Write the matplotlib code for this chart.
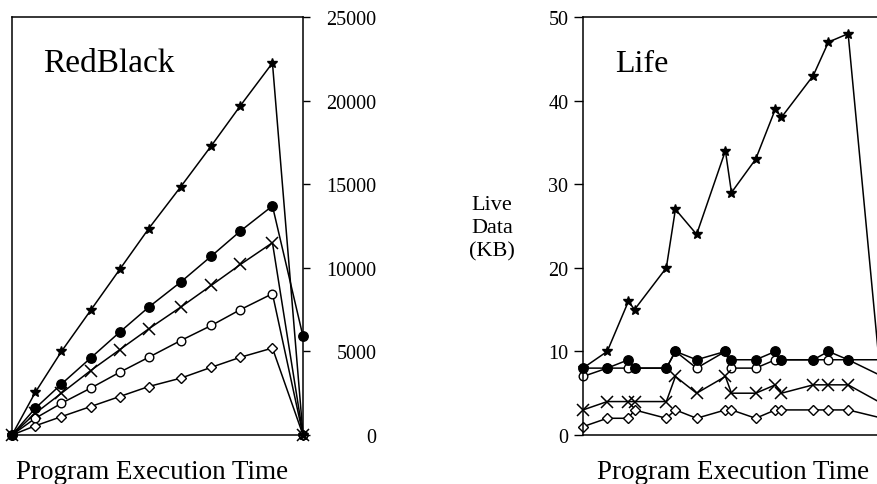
import matplotlib
matplotlib.use("Agg")
import matplotlib.pyplot as plt

plt.rcParams['font.family'] = ['Liberation Serif', 'DejaVu Serif']

# ---- RedBlack data ----
rb_time = [0, 0.8, 1.7, 2.7, 3.7, 4.7, 5.8, 6.85, 7.85, 8.95, 10]
rb_star = [0, 2550, 5000, 7450, 9900, 12350, 14850, 17300, 19700, 22250, 0]
rb_filled = [0, 1600, 3050, 4600, 6150, 7650, 9150, 10700, 12200, 13700, 5900]
rb_cross = [0, 1300, 2500, 3850, 5100, 6350, 7650, 8950, 10200, 11500, 0]
rb_open = [0, 1000, 1900, 2800, 3750, 4650, 5650, 6550, 7500, 8450, 0]
rb_diamond = [0, 550, 1100, 1700, 2300, 2900, 3400, 4050, 4650, 5200, 0]
rb_ticks = [0, 5000, 10000, 15000, 20000, 25000]

# ---- Life data ----
life_time = [0, 0.8, 1.5, 1.7, 2.75, 3.05, 3.75, 4.7, 4.9, 5.7, 6.35, 6.55, 7.6, 8.1, 8.75, 10]
life_star = [8, 10, 16, 15, 20, 27, 24, 34, 29, 33, 39, 38, 43, 47, 48, 0]
life_filled = [8, 8, 9, 8, 8, 10, 9, 10, 9, 9, 10, 9, 9, 10, 9, 6.8]
life_open = [7, 8, 8, 8, 8, 10, 8, 10, 8, 8, 9, 9, 9, 9, 9, 9]
life_cross = [3, 4, 4, 4, 4, 7, 5, 7, 5, 5, 6, 5, 6, 6, 6, 3.5]
life_diamond = [1, 2, 2, 3, 2, 3, 2, 3, 3, 2, 3, 3, 3, 3, 3, 1.9]
life_ticks = [0, 10, 20, 30, 40, 50]

W, H = 877, 485
fig = plt.figure(figsize=(W / 100, H / 100), dpi=100)

lw = 1.1
styles = {
    'diamond': dict(marker='D', ms=5, mfc='white', mec='black', mew=1.0),
    'open': dict(marker='o', ms=6.2, mfc='white', mec='black', mew=1.0),
    'cross': dict(marker='x', ms=9, mec='black', mew=1.1),
    'filled': dict(marker='o', ms=6.8, mfc='black', mec='black'),
    'star': dict(marker='*', ms=7.5, mfc='black', mec='black'),
}

# ---- RedBlack panel ----
ax1 = fig.add_axes([12 / W, (H - 436) / H, 291 / W, 418 / H])
for key, vals in [('diamond', rb_diamond), ('open', rb_open), ('cross', rb_cross),
                  ('filled', rb_filled), ('star', rb_star)]:
    ax1.plot(rb_time, vals, color='black', lw=lw, clip_on=False, **styles[key])
ax1.set_xlim(0, 10)
ax1.set_ylim(0, 25000)
ax1.set_xticks([])
ax1.yaxis.tick_right()
ax1.set_yticks(rb_ticks)
ax1.set_yticklabels([str(t) for t in rb_ticks])
ax1.tick_params(axis='y', direction='out', length=5, width=1, labelsize=14.5, pad=48)
for lab in ax1.get_yticklabels():
    lab.set_horizontalalignment('right')
for s in ax1.spines.values():
    s.set_linewidth(1.1)
ax1.text((43 - 12) / 291, 1 - (72 - 18) / 418, 'RedBlack', transform=ax1.transAxes,
         fontsize=24, ha='left', va='baseline')

# ---- Life panel ----
ax2 = fig.add_axes([583 / W, (H - 436) / H, (886 - 583) / W, 418 / H])
for key, vals in [('diamond', life_diamond), ('open', life_open), ('cross', life_cross),
                  ('filled', life_filled), ('star', life_star)]:
    ax2.plot(life_time, vals, color='black', lw=lw, clip_on=False, **styles[key])
ax2.set_xlim(0, 10)
ax2.set_ylim(0, 50)
ax2.set_xticks([])
ax2.set_yticks(life_ticks)
ax2.set_yticklabels([str(t) for t in life_ticks])
ax2.tick_params(axis='y', direction='out', length=6.5, width=1, labelsize=14.5, pad=4)
for s in ax2.spines.values():
    s.set_linewidth(1.1)
ax2.text((615 - 583) / 303, 1 - (72 - 18) / 418, 'Life', transform=ax2.transAxes,
         fontsize=23, ha='left', va='baseline')

fig.text(492 / W, 1 - 229 / H, 'Live\nData\n(KB)', ha='center', va='center',
         fontsize=16, linespacing=1.3)

fig.text(152 / W, 1 - 479 / H, 'Program Execution Time', ha='center', va='baseline', fontsize=19.5)
fig.text(733 / W, 1 - 479 / H, 'Program Execution Time', ha='center', va='baseline', fontsize=19.5)

fig.savefig('out.png', dpi=100)
